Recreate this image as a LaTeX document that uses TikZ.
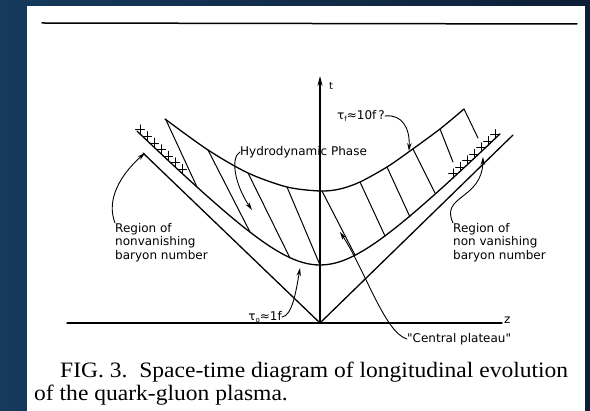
\documentclass[tikz,border=0pt]{standalone}
\usepackage{fontspec}
\setmainfont{Liberation Serif}
\newfontfamily\lett{DejaVu Sans}
\usetikzlibrary{arrows.meta}
\definecolor{bgl}{RGB}{21,58,92}
\definecolor{bgr}{RGB}{13,30,54}
\begin{document}
\begin{tikzpicture}[x=1pt,y=-1pt,line cap=round,
  ln/.style={line width=1.3pt,black},
  hatch/.style={line width=1pt,black},
  arr/.style={line width=0.9pt,-{Stealth[length=8pt,width=4.4pt]}},
  lbl/.style={font=\lett\fontsize{12}{13.5}\selectfont,align=left,inner sep=0pt},
  captxt/.style={font=\fontsize{22}{26}\selectfont,inner sep=0pt}]
\useasboundingbox (0,0) rectangle (590,411);
\shade[left color=bgl,right color=bgr] (0,0) rectangle (590,411);
\fill[white] (27,6) rectangle (585,411);
% top rule
\coordinate (r1) at (42,23); \coordinate (r2) at (577,24);
\draw[line width=1.5pt] (r1) -- (r2);
% axes
\coordinate (O) at (320,323);
\coordinate (ttop) at (320,76);
\coordinate (zl) at (67,323);
\coordinate (zr) at (502,323);
\draw[ln,-{Stealth[length=10pt,width=5pt]}] (O) -- (ttop);
\draw[ln] (zl) -- (zr);
\node[lbl,font=\lett\fontsize{10}{11}\selectfont] (tl) at (331,86) {t};
\node[lbl,anchor=west] (zlab) at (504,320) {z};
% light cone
\coordinate (lcL) at (143,153);
\coordinate (lcR) at (513,135);
\draw[ln] (lcL) -- (O) -- (lcR);
% tau_0 hyperbola
\draw[ln] plot[domain=137:500,samples=80] (\x,{323-10*sqrt(33.64+((\x-320)/10)^2)});
% tau_f curve
\draw[ln] plot[smooth] coordinates {(165,119) (208,150) (248,173) (287,187) (320,191) (340,189) (360,182) (387,167) (410,151) (440,129) (464,109)};
% hatching
\foreach \a/\b in {{(166,120)}/{(197,187)},{(208,150)}/{(250,232)},{(248,173)}/{(290,258)},{(287,187)}/{(320,265)},{(322,191)}/{(355,255)},{(360,182)}/{(385,236)},{(387,167)}/{(410,217)},{(413,149)}/{(435,193)},{(440,129)}/{(453,162)},{(464,109)}/{(478,138)}}
  \draw[hatch] \a -- \b;
% crosses
\foreach \cx in {140,147,...,185}{
  \pgfmathsetmacro\cy{323-10*sqrt(33.64+((\cx-320)/10)^2)}
  \draw[hatch] (\cx-4.5,\cy-4) -- (\cx+4.5,\cy-4) (\cx,\cy-9) -- (\cx,\cy);}
\foreach \cx in {453,460,...,497}{
  \pgfmathsetmacro\cy{323-10*sqrt(33.64+((\cx-320)/10)^2)}
  \draw[hatch] (\cx-4.5,\cy-4) -- (\cx+4.5,\cy-4) (\cx,\cy-9) -- (\cx,\cy);}
% labels and arrows
\node[lbl,anchor=west] (tauf) at (337,116) {τ\raisebox{-2pt}{\scriptsize f}≈10f\,?};
\coordinate (pf) at (409,151);
\draw[arr] (tauf.east) .. controls (402,114) and (410,128) .. (pf);
\node[lbl,anchor=west] (hyd) at (240,152) {Hydrodynamic Phase};
\coordinate (ph) at (252,210);
\draw[arr] (hyd.west) .. controls (230,158) and (235,185) .. (ph);
\node[lbl,anchor=north west] (regL) at (115,223) {Region of\\nonvanishing\\baryon number};
\coordinate (pl) at (145,153);
\draw[arr] (regL.north west) .. controls (106,200) and (120,175) .. (pl);
\node[lbl,anchor=north west] (regR) at (453,223) {Region of\\non vanishing\\baryon number};
\coordinate (pr) at (483,157);
\draw[arr] (regR.north west) .. controls (440,195) and (482,200) .. (pr);
\node[lbl,anchor=east] (tau0) at (282,317) {τ\raisebox{-2pt}{\scriptsize o}≈1f};
\coordinate (p0) at (300,268);
\draw[arr] (tau0.east) .. controls (292,316) and (296,292) .. (p0);
\node[lbl,anchor=west] (cp) at (407,339) {"Central plateau"};
\coordinate (pc) at (340,232);
\draw[arr] (cp.west) .. controls (385,333) and (365,270) .. (pc);
% caption
\node[captxt,anchor=base west] (cap1) at (60,378) {\scalebox{1.07}[1]{FIG. 3.\ \ Space-time diagram of longitudinal evolution}};
\node[captxt,anchor=base west] (cap2) at (34,401) {\scalebox{1.07}[1]{of the quark-gluon plasma.}};
\end{tikzpicture}
\end{document}
